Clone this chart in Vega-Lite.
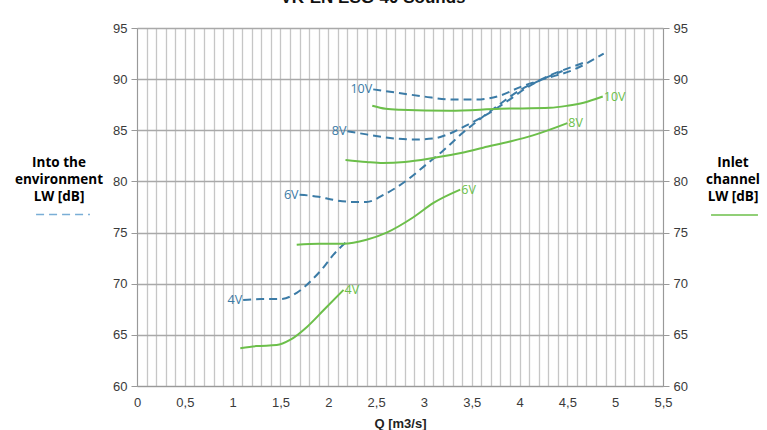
{
  "$schema": "https://vega.github.io/schema/vega-lite/v6.json",
  "width": 526,
  "height": 358,
  "autosize": {"type": "none"},
  "padding": {"left": 137, "top": 28, "right": 104, "bottom": 44},
  "background": "white",
  "title": {
    "text": "VK-EN ESG-40 Sounds",
    "font": "Liberation Sans",
    "fontSize": 17,
    "fontWeight": "bold",
    "color": "#111",
    "anchor": "middle",
    "dx": -27,
    "offset": 7,
    "dy": 5,
    "baseline": "alphabetic"
  },
  "config": {
    "view": {"stroke": null},
    "axis": {
      "labelFont": "Liberation Sans",
      "labelFontSize": 13,
      "labelColor": "#3a3a3a",
      "titleFont": "Liberation Sans",
      "titleFontSize": 13,
      "titleFontWeight": "bold",
      "titleColor": "#222",
      "domainColor": "#999",
      "tickColor": "#999"
    }
  },
  "data": {
    "values": [
      {"series": "env", "v": "4V", "q": 1.11, "lw": 68.4},
      {"series": "env", "v": "4V", "q": 1.3, "lw": 68.5},
      {"series": "env", "v": "4V", "q": 1.5, "lw": 68.5},
      {"series": "env", "v": "4V", "q": 1.67, "lw": 69.1},
      {"series": "env", "v": "4V", "q": 1.81, "lw": 70.2},
      {"series": "env", "v": "4V", "q": 1.95, "lw": 71.6},
      {"series": "env", "v": "4V", "q": 2.05, "lw": 72.8},
      {"series": "env", "v": "4V", "q": 2.18, "lw": 74.0},
      {"series": "env", "v": "6V", "q": 1.7, "lw": 78.7},
      {"series": "env", "v": "6V", "q": 1.9, "lw": 78.5},
      {"series": "env", "v": "6V", "q": 2.05, "lw": 78.2},
      {"series": "env", "v": "6V", "q": 2.25, "lw": 78.0},
      {"series": "env", "v": "6V", "q": 2.4, "lw": 78.0},
      {"series": "env", "v": "6V", "q": 2.6, "lw": 78.8},
      {"series": "env", "v": "6V", "q": 2.82, "lw": 80.1},
      {"series": "env", "v": "6V", "q": 3.03, "lw": 81.7},
      {"series": "env", "v": "6V", "q": 3.2, "lw": 83.0},
      {"series": "env", "v": "6V", "q": 3.4, "lw": 84.7},
      {"series": "env", "v": "6V", "q": 3.6, "lw": 86.2},
      {"series": "env", "v": "6V", "q": 3.8, "lw": 87.6},
      {"series": "env", "v": "6V", "q": 4.0, "lw": 88.9},
      {"series": "env", "v": "6V", "q": 4.22, "lw": 89.9},
      {"series": "env", "v": "6V", "q": 4.45, "lw": 90.8},
      {"series": "env", "v": "8V", "q": 2.2, "lw": 84.9},
      {"series": "env", "v": "8V", "q": 2.4, "lw": 84.6},
      {"series": "env", "v": "8V", "q": 2.6, "lw": 84.3},
      {"series": "env", "v": "8V", "q": 2.89, "lw": 84.1},
      {"series": "env", "v": "8V", "q": 3.1, "lw": 84.2},
      {"series": "env", "v": "8V", "q": 3.25, "lw": 84.6},
      {"series": "env", "v": "8V", "q": 3.45, "lw": 85.5},
      {"series": "env", "v": "8V", "q": 3.65, "lw": 86.5},
      {"series": "env", "v": "8V", "q": 3.85, "lw": 87.7},
      {"series": "env", "v": "8V", "q": 4.08, "lw": 89.2},
      {"series": "env", "v": "8V", "q": 4.3, "lw": 90.3},
      {"series": "env", "v": "8V", "q": 4.55, "lw": 91.2},
      {"series": "env", "v": "8V", "q": 4.7, "lw": 91.7},
      {"series": "env", "v": "10V", "q": 2.47, "lw": 89.0},
      {"series": "env", "v": "10V", "q": 2.7, "lw": 88.7},
      {"series": "env", "v": "10V", "q": 3.0, "lw": 88.3},
      {"series": "env", "v": "10V", "q": 3.3, "lw": 88.0},
      {"series": "env", "v": "10V", "q": 3.55, "lw": 88.0},
      {"series": "env", "v": "10V", "q": 3.8, "lw": 88.4},
      {"series": "env", "v": "10V", "q": 4.0, "lw": 89.2},
      {"series": "env", "v": "10V", "q": 4.25, "lw": 90.0},
      {"series": "env", "v": "10V", "q": 4.56, "lw": 90.9},
      {"series": "env", "v": "10V", "q": 4.88, "lw": 92.5},
      {"series": "inlet", "v": "4V", "q": 1.08, "lw": 63.7},
      {"series": "inlet", "v": "4V", "q": 1.25, "lw": 63.9},
      {"series": "inlet", "v": "4V", "q": 1.46, "lw": 64.0},
      {"series": "inlet", "v": "4V", "q": 1.6, "lw": 64.5},
      {"series": "inlet", "v": "4V", "q": 1.78, "lw": 65.8},
      {"series": "inlet", "v": "4V", "q": 1.95, "lw": 67.4},
      {"series": "inlet", "v": "4V", "q": 2.16, "lw": 69.4},
      {"series": "inlet", "v": "6V", "q": 1.67, "lw": 73.8},
      {"series": "inlet", "v": "6V", "q": 1.9, "lw": 73.9},
      {"series": "inlet", "v": "6V", "q": 2.16, "lw": 73.9},
      {"series": "inlet", "v": "6V", "q": 2.4, "lw": 74.3},
      {"series": "inlet", "v": "6V", "q": 2.61, "lw": 75.0},
      {"series": "inlet", "v": "6V", "q": 2.89, "lw": 76.5},
      {"series": "inlet", "v": "6V", "q": 3.1, "lw": 77.9},
      {"series": "inlet", "v": "6V", "q": 3.38, "lw": 79.2},
      {"series": "inlet", "v": "8V", "q": 2.18, "lw": 82.1},
      {"series": "inlet", "v": "8V", "q": 2.4, "lw": 81.9},
      {"series": "inlet", "v": "8V", "q": 2.57, "lw": 81.8},
      {"series": "inlet", "v": "8V", "q": 2.8, "lw": 81.9},
      {"series": "inlet", "v": "8V", "q": 3.1, "lw": 82.3},
      {"series": "inlet", "v": "8V", "q": 3.4, "lw": 82.8},
      {"series": "inlet", "v": "8V", "q": 3.62, "lw": 83.3},
      {"series": "inlet", "v": "8V", "q": 3.9, "lw": 83.9},
      {"series": "inlet", "v": "8V", "q": 4.14, "lw": 84.5},
      {"series": "inlet", "v": "8V", "q": 4.5, "lw": 85.7},
      {"series": "inlet", "v": "10V", "q": 2.46, "lw": 87.4},
      {"series": "inlet", "v": "10V", "q": 2.6, "lw": 87.1},
      {"series": "inlet", "v": "10V", "q": 2.75, "lw": 87.0},
      {"series": "inlet", "v": "10V", "q": 3.27, "lw": 86.9},
      {"series": "inlet", "v": "10V", "q": 3.8, "lw": 87.1},
      {"series": "inlet", "v": "10V", "q": 4.32, "lw": 87.2},
      {"series": "inlet", "v": "10V", "q": 4.5, "lw": 87.4},
      {"series": "inlet", "v": "10V", "q": 4.67, "lw": 87.7},
      {"series": "inlet", "v": "10V", "q": 4.87, "lw": 88.3}
    ]
  },
  "encoding": {
    "x": {
      "field": "q", "type": "quantitative",
      "scale": {"domain": [0, 5.5], "nice": false},
      "axis": {
        "title": "Q [m3/s]",
        "values": [0,0.1,0.2,0.3,0.4,0.5,0.6,0.7,0.8,0.9,1,1.1,1.2,1.3,1.4,1.5,1.6,1.7,1.8,1.9,2,2.1,2.2,2.3,2.4,2.5,2.6,2.7,2.8,2.9,3,3.1,3.2,3.3,3.4,3.5,3.6,3.7,3.8,3.9,4,4.1,4.2,4.3,4.4,4.5,4.6,4.7,4.8,4.9,5,5.1,5.2,5.3,5.4,5.5],
        "labelExpr": "round(datum.value*10) % 5 == 0 ? replace(format(datum.value, '.1~f'), '.', ',') : ''",
        "labelOverlap": false,
        "labelFlush": false,
        "ticks": false,
        "labelPadding": 10,
        "titlePadding": 8,
        "grid": true,
        "gridColor": "#c6c6c6",
        "gridWidth": 1.3
      }
    }
  },
  "resolve": {"scale": {"y": "independent"}, "axis": {"y": "independent"}},
  "layer": [
    {
      "transform": [{"filter": "datum.series === 'env'"}],
      "mark": {"type": "line", "color": "#3b7ba6", "strokeWidth": 2, "interpolate": "monotone"},
      "encoding": {
        "y": {
          "field": "lw", "type": "quantitative",
          "scale": {"domain": [60, 95], "nice": false, "zero": false},
          "axis": {"title": null, "values": [60,65,70,75,80,85,90,95], "grid": true, "gridColor": "#a9a9a9", "gridWidth": 1.6, "tickSize": 6, "labelPadding": 4}
        },
        "detail": {"field": "v"},
        "strokeDash": {
          "field": "series", "type": "nominal",
          "scale": {"domain": ["env"], "range": [[8, 5]]},
          "legend": {
            "orient": "none", "legendX": -122, "legendY": 128,
            "title": ["Into the", "environment", "LW [dB]"],
            "titleFont": "Open Sans", "titleFontSize": 13.5, "titleFontWeight": "bold", "titleColor": "#000",
            "titleAlign": "center", "titleAnchor": "middle", "titleLineHeight": 17, "titlePadding": -17,
            "labelExpr": "''", "symbolType": "stroke", "symbolSize": 2900,
            "symbolStrokeColor": "#7aaed6", "symbolStrokeWidth": 1.5, "symbolOffset": 13
          }
        }
      }
    },
    {
      "transform": [{"filter": "datum.series === 'inlet'"}],
      "mark": {"type": "line", "strokeWidth": 2, "interpolate": "monotone"},
      "encoding": {
        "y": {
          "field": "lw", "type": "quantitative",
          "scale": {"domain": [60, 95], "nice": false, "zero": false},
          "axis": {"title": null, "orient": "right", "values": [60,65,70,75,80,85,90,95], "grid": false, "tickSize": 6, "labelPadding": 4}
        },
        "detail": {"field": "v"},
        "color": {
          "field": "series", "type": "nominal",
          "scale": {"domain": ["inlet"], "range": ["#6cbf4a"]},
          "legend": {
            "orient": "none", "legendX": 565, "legendY": 128,
            "title": ["Inlet", "channel", "LW [dB]"],
            "titleFont": "Open Sans", "titleFontSize": 13.5, "titleFontWeight": "bold", "titleColor": "#000",
            "titleAlign": "center", "titleAnchor": "middle", "titleLineHeight": 17, "titlePadding": -13,
            "labelExpr": "''", "symbolType": "stroke", "symbolSize": 2200,
            "symbolStrokeWidth": 1.5, "symbolOffset": 8
          }
        }
      }
    },
    {
      "transform": [
        {"filter": "datum.series === 'env'"},
        {"joinaggregate": [{"op": "min", "field": "q", "as": "qmin"}], "groupby": ["v"]},
        {"filter": "datum.q === datum.qmin"}
      ],
      "mark": {"type": "text", "align": "right", "baseline": "middle", "dx": -1, "font": "Open Sans", "fontSize": 12.5, "color": "#3b7ba6"},
      "encoding": {
        "y": {"field": "lw", "type": "quantitative", "scale": {"domain": [60, 95], "nice": false, "zero": false}, "axis": null},
        "text": {"field": "v"}
      }
    },
    {
      "transform": [
        {"filter": "datum.series === 'inlet'"},
        {"joinaggregate": [{"op": "max", "field": "q", "as": "qmax"}], "groupby": ["v"]},
        {"filter": "datum.q === datum.qmax"}
      ],
      "mark": {"type": "text", "align": "left", "baseline": "middle", "dx": 1, "font": "Open Sans", "fontSize": 12.5, "color": "#6cbf4a"},
      "encoding": {
        "y": {"field": "lw", "type": "quantitative", "scale": {"domain": [60, 95], "nice": false, "zero": false}, "axis": null},
        "text": {"field": "v"}
      }
    }
  ]
}
